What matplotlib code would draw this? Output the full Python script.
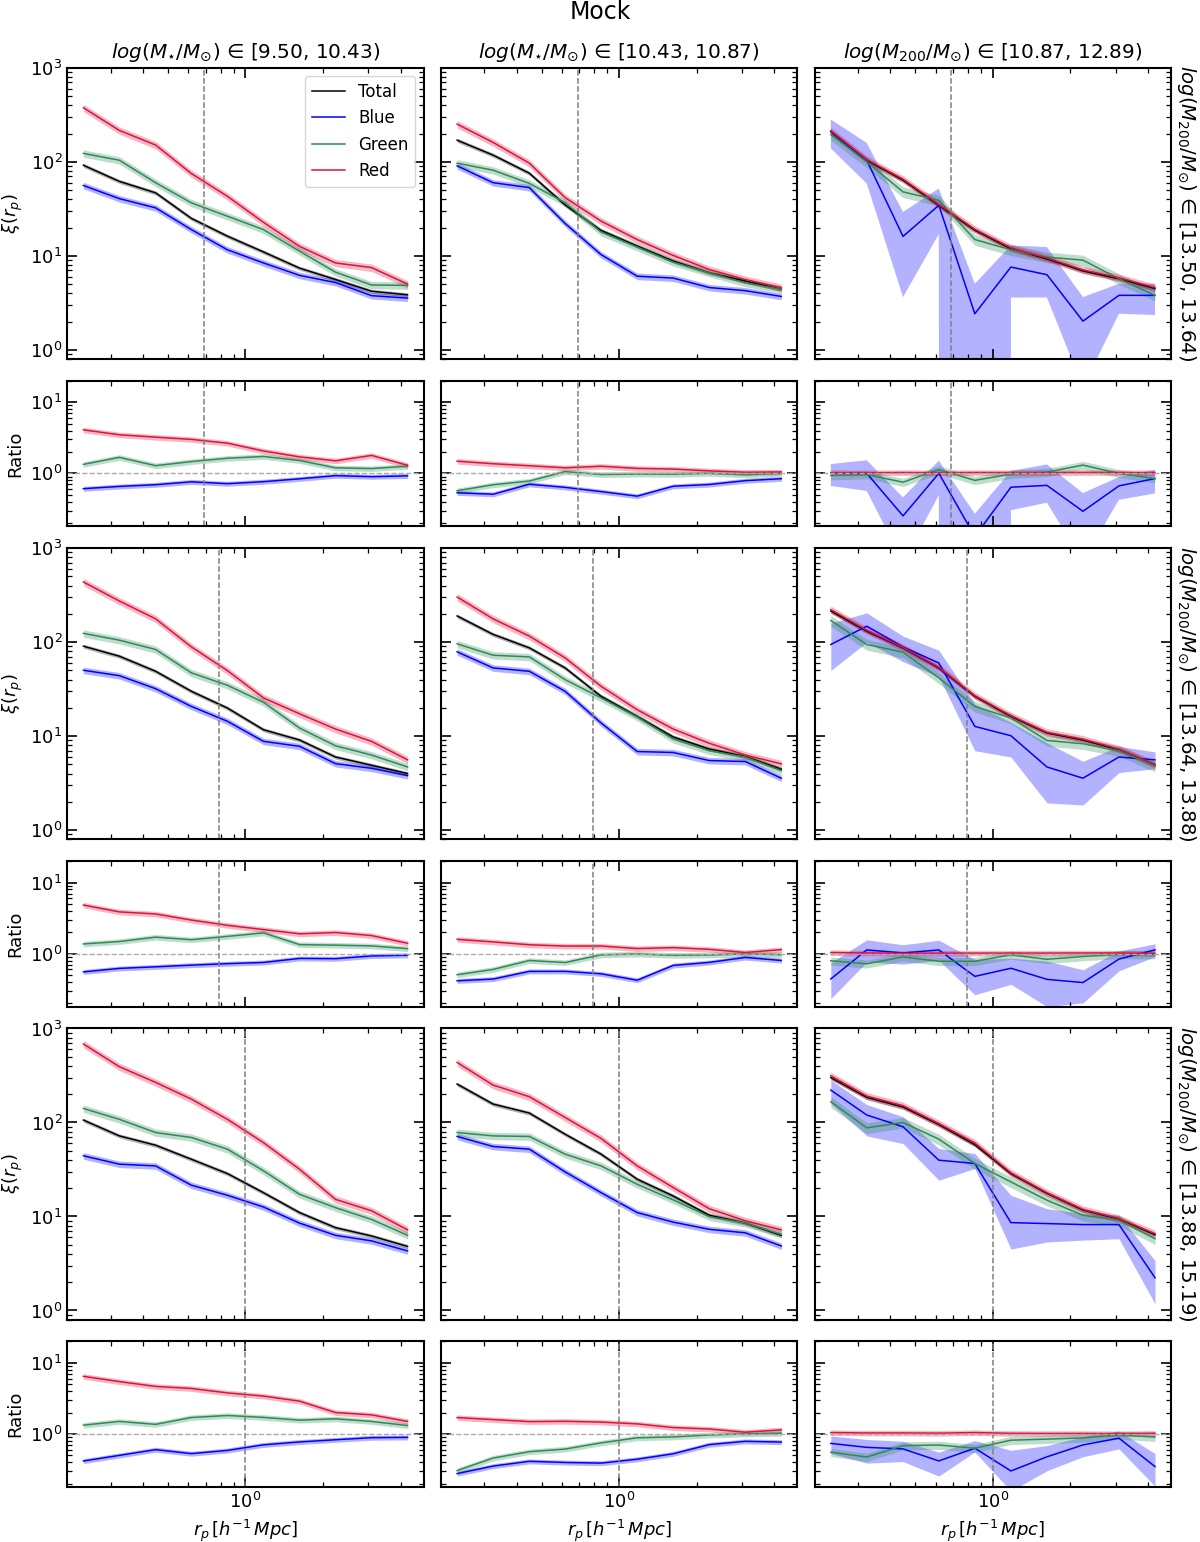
"""
Mock projected clustering xi(r_p) by colour, split by stellar mass (columns)
and halo mass (rows), with colour/total ratio panels underneath.
"""
import numpy as np
import matplotlib
matplotlib.use("Agg")
import matplotlib.pyplot as plt
from matplotlib.ticker import NullFormatter

# --- bins -------------------------------------------------------------------
RP = [0.235, 0.324, 0.448, 0.617, 0.851, 1.175, 1.621, 2.236, 3.085, 4.257]
R200 = [0.69, 0.79, 1.0]  # dashed vertical line, one per halo-mass row
COL_TITLES = [r"$log(M_{\star}/M_{\odot})$ ∈ [9.50, 10.43)",
              r"$log(M_{\star}/M_{\odot})$ ∈ [10.43, 10.87)",
              r"$log(M_{200}/M_{\odot})$ ∈ [10.87, 12.89)"]
ROW_LABELS = [r"$log(M_{200}/M_{\odot})$ ∈ [13.50, 13.64)",
              r"$log(M_{200}/M_{\odot})$ ∈ [13.64, 13.88)",
              r"$log(M_{200}/M_{\odot})$ ∈ [13.88, 15.19)"]

# --- xi(r_p), row 1 ---------------------------------------------------------
TOTAL_11 = [92, 62, 46.8, 25.0, 16.2, 11.0, 7.4, 5.6, 4.2, 3.85]
BLUE_11 = [56, 40.6, 32.4, 19.0, 11.6, 8.4, 6.2, 5.2, 3.77, 3.55]
GREEN_11 = [123, 104, 60, 36.6, 26.4, 19.0, 11.2, 6.7, 4.9, 4.85]
RED_11 = [376, 216, 151, 75, 43, 22.7, 12.6, 8.4, 7.5, 5.0]

TOTAL_12 = [170, 118, 75.7, 34.8, 18.6, 12.7, 8.8, 6.6, 5.4, 4.4]
BLUE_12 = [90.6, 60, 53.2, 22.1, 10.3, 6.07, 5.8, 4.6, 4.26, 3.7]
GREEN_12 = [96.8, 81.5, 59, 36.8, 17.9, 12.4, 8.55, 6.6, 5.15, 4.4]
RED_12 = [252, 161, 96.8, 41.6, 23.4, 14.9, 10.1, 7.15, 5.6, 4.6]

TOTAL_13 = [209, 104, 63.8, 34.5, 18.7, 11.9, 9.3, 6.9, 5.7, 4.5]
BLUE_13 = [212, 104, 16.1, 34.5, 2.42, 7.6, 6.3, 2.02, 3.8, 3.8]
GREEN_13 = [195, 100, 47.9, 39, 14.9, 11.6, 9.7, 9.0, 5.7, 3.8]
RED_13 = [214, 106, 65.5, 35.2, 19.2, 12.2, 9.5, 7.1, 5.85, 4.6]
BLUE_13_LO = [139, 58.8, 3.64, 17, 0, 3.6, 3.6, 0.4, 2.42, 2.35]
BLUE_13_HI = [282, 159, 29.3, 52, 5.05, 12.9, 12.4, 3.64, 5.05, 5.05]

# --- xi(r_p), row 2 ---------------------------------------------------------
TOTAL_21 = [90.6, 70.9, 49, 30, 19.9, 11.7, 9.1, 6.0, 4.9, 4.0]
BLUE_21 = [50.2, 44, 32, 20.7, 14.4, 8.8, 7.8, 5.1, 4.55, 3.8]
GREEN_21 = [124, 105, 83.6, 47.1, 34.8, 22.9, 12.2, 7.9, 6.3, 4.7]
RED_21 = [437, 274, 177, 89, 49.8, 25.5, 17.3, 11.9, 8.8, 5.6]

TOTAL_22 = [190, 121, 87, 53.2, 26.5, 16.2, 9.8, 7.3, 6.07, 4.45]
BLUE_22 = [78.9, 53.2, 49, 30, 13.8, 6.86, 6.7, 5.5, 5.37, 3.57]
GREEN_22 = [96, 72.6, 69.7, 39.9, 25.5, 16, 9.3, 7.0, 6.0, 4.3]
RED_22 = [302, 177, 116, 68, 33.9, 19.1, 11.9, 8.4, 6.3, 5.07]

TOTAL_23 = [214, 131, 87, 53.2, 26.5, 16.2, 10.8, 9.1, 7.15, 4.95]
BLUE_23 = [94.4, 148, 89, 60, 12.7, 10.1, 4.7, 3.57, 6.0, 5.6]
GREEN_23 = [170, 94.4, 78.2, 41.6, 20.7, 15.6, 9.0, 8.3, 7.0, 4.8]
RED_23 = [222, 134, 88, 54, 27, 16.5, 11, 9.3, 7.3, 5.0]
BLUE_23_LO = [50, 100, 62, 43, 7.0, 6.0, 1.95, 1.85, 4.1, 4.5]
BLUE_23_HI = [160, 205, 116, 82, 22, 14, 8.5, 5.4, 7.8, 6.8]

# --- xi(r_p), row 3 ---------------------------------------------------------
TOTAL_31 = [106, 72, 57.3, 40.6, 28.6, 17.9, 11, 7.6, 6.2, 4.8]
BLUE_31 = [44.2, 36, 34.5, 21.5, 16.8, 12.6, 8.5, 6.3, 5.5, 4.3]
GREEN_31 = [141, 108, 78.2, 69.2, 52, 30.6, 17.2, 12.4, 9.3, 6.3]
RED_31 = [684, 392, 267, 177, 108, 61, 31.8, 15.2, 11.5, 7.2]

TOTAL_32 = [256, 157, 126, 75, 46, 24.9, 16.5, 10.3, 8.5, 6.3]
BLUE_32 = [71, 55.5, 52, 29.8, 17.9, 11, 8.7, 7.3, 6.7, 4.85]
GREEN_32 = [78.2, 72, 71, 46, 34.5, 22, 15, 9.96, 8.5, 6.45]
RED_32 = [435, 250, 188, 113, 67.6, 34.5, 20.3, 12.1, 9.0, 7.2]

TOTAL_33 = [300, 185, 146, 95, 58, 28.5, 17.6, 11.7, 9.4, 6.4]
BLUE_33 = [221, 120, 90, 39.7, 36.6, 8.6, 8.4, 8.2, 8.2, 2.23]
GREEN_33 = [166, 87.7, 100, 66.4, 36.6, 23.3, 14.9, 10.3, 9.1, 5.8]
RED_33 = [314, 191, 151, 97.5, 60.7, 29.1, 17.9, 11.9, 9.5, 6.56]
BLUE_33_LO = [159, 72, 59.7, 24.3, 32.4, 4.5, 5.35, 5.6, 5.8, 1.18]
BLUE_33_HI = [282, 155, 115, 52.8, 46.8, 16.8, 12.1, 10.7, 10.3, 3.4]

# fractional 1-sigma width of the shaded bands where no explicit band is given
REL_ERR = {"Total": 0.05, "Blue": 0.08, "Green": 0.09, "Red": 0.09}
REL_ERR_GREEN_COL3 = 0.13

COLORS = {"Total": "black", "Blue": "blue", "Green": "#2e8b57", "Red": "#dc143c"}
ORDER = ["Total", "Blue", "Green", "Red"]

PANELS = {
    (0, 0): dict(Total=TOTAL_11, Blue=BLUE_11, Green=GREEN_11, Red=RED_11),
    (0, 1): dict(Total=TOTAL_12, Blue=BLUE_12, Green=GREEN_12, Red=RED_12),
    (0, 2): dict(Total=TOTAL_13, Blue=BLUE_13, Green=GREEN_13, Red=RED_13),
    (1, 0): dict(Total=TOTAL_21, Blue=BLUE_21, Green=GREEN_21, Red=RED_21),
    (1, 1): dict(Total=TOTAL_22, Blue=BLUE_22, Green=GREEN_22, Red=RED_22),
    (1, 2): dict(Total=TOTAL_23, Blue=BLUE_23, Green=GREEN_23, Red=RED_23),
    (2, 0): dict(Total=TOTAL_31, Blue=BLUE_31, Green=GREEN_31, Red=RED_31),
    (2, 1): dict(Total=TOTAL_32, Blue=BLUE_32, Green=GREEN_32, Red=RED_32),
    (2, 2): dict(Total=TOTAL_33, Blue=BLUE_33, Green=GREEN_33, Red=RED_33),
}
BLUE_BANDS = {
    (0, 2): (BLUE_13_LO, BLUE_13_HI),
    (1, 2): (BLUE_23_LO, BLUE_23_HI),
    (2, 2): (BLUE_33_LO, BLUE_33_HI),
}


def band(key, name, xi):
    xi = np.asarray(xi, dtype=float)
    if name == "Blue" and key in BLUE_BANDS:
        lo, hi = BLUE_BANDS[key]
        return np.asarray(lo, float), np.asarray(hi, float)
    e = REL_ERR_GREEN_COL3 if (name == "Green" and key[1] == 2) else REL_ERR[name]
    return xi * (1 - e), xi * (1 + e)


def style(ax):
    ax.set_xscale("log")
    ax.set_yscale("log")
    ax.tick_params(which="both", direction="in", top=True, right=True,
                   labelsize=13)
    ax.tick_params(which="major", length=7, width=1.2)
    ax.tick_params(which="minor", length=3.5, width=0.9)
    ax.xaxis.set_minor_formatter(NullFormatter())
    ax.yaxis.set_minor_formatter(NullFormatter())
    for s in ax.spines.values():
        s.set_linewidth(1.5)


fig = plt.figure(figsize=(12, 15.42), dpi=100)
gs = fig.add_gridspec(6, 3, height_ratios=[2, 1, 2, 1, 2, 1],
                      left=0.056, right=0.976, top=0.956, bottom=0.0357,
                      wspace=0.048, hspace=0.1)
rp = np.asarray(RP)

for r in range(3):
    for c in range(3):
        key = (r, c)
        data = PANELS[key]
        ax = fig.add_subplot(gs[2 * r, c])
        axr = fig.add_subplot(gs[2 * r + 1, c], sharex=ax)
        style(ax)
        style(axr)
        total = np.asarray(data["Total"], float)

        for name in ORDER:
            xi = np.asarray(data[name], float)
            lo, hi = band(key, name, xi)
            col = COLORS[name]
            ax.fill_between(rp, lo, hi, color=col, alpha=0.3, lw=0)
            ax.plot(rp, xi, color=col, lw=1.1, label=name)
            if name != "Total":
                axr.fill_between(rp, lo / total, hi / total, color=col,
                                 alpha=0.3, lw=0)
                axr.plot(rp, xi / total, color=col, lw=1.1)

        for a in (ax, axr):
            a.axvline(R200[r], color="gray", ls="--", lw=1.1)
        axr.axhline(1.0, color="#aaaaaa", ls="--", lw=1.0)

        ax.set_ylim(0.8, 1000)
        axr.set_ylim(0.18, 20)
        ax.tick_params(labelbottom=False)
        if r < 2:
            axr.tick_params(labelbottom=False)
        else:
            axr.set_xlabel(r"$r_p\,[h^{-1}\,Mpc]$", fontsize=13)
        if c == 0:
            ax.set_ylabel(r"$\xi(r_p)$", fontsize=13)
            axr.set_ylabel("Ratio", fontsize=13)
        else:
            ax.tick_params(labelleft=False)
            axr.tick_params(labelleft=False)
        if r == 0:
            ax.set_title(COL_TITLES[c], fontsize=14.4, pad=7)
        if c == 2:
            ax.text(1.012, 0.5, ROW_LABELS[r], transform=ax.transAxes,
                    rotation=270, ha="left", va="center", fontsize=14.2)
        if key == (0, 0):
            ax.legend(loc="upper right", fontsize=12, framealpha=0.8)

fig.suptitle("Mock", fontsize=17, y=0.992, va="center")
fig.savefig("out.png", dpi=100)
